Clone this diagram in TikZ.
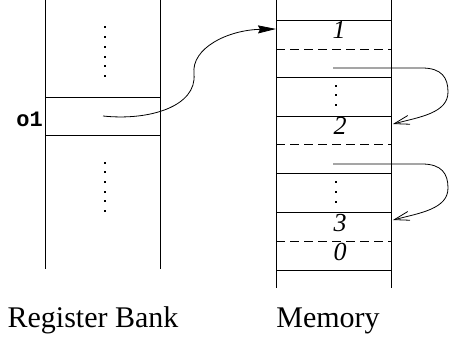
\documentclass[tikz,border=0pt]{standalone}
\usepackage{fontspec}
\setmainfont{Liberation Serif}
\setmonofont{Liberation Mono}
\usetikzlibrary{arrows.meta}
\tikzset{
  wall/.style={line width=0.9pt},
  sep/.style={line width=0.9pt},
  dsep/.style={line width=0.9pt, dash pattern=on 9pt off 5pt},
  dotmark/.style={fill=black, inner sep=0pt, minimum size=2.2pt, rectangle},
  slotnum/.style={anchor=base, inner sep=0pt, font=\fontsize{26}{30}\selectfont\itshape},
  caption/.style={anchor=base, inner sep=0pt, font=\fontsize{30}{36}\selectfont},
  reglabel/.style={anchor=base east, inner sep=0pt, font=\fontsize{22}{26}\selectfont\ttfamily\bfseries},
  ptr/.style={line width=0.8pt, -{Stealth[length=18pt,width=8pt,inset=2pt]}},
  link/.style={line width=0.8pt, -{Straight Barb[length=15pt,width=9pt]}}
}
\begin{document}
\begin{tikzpicture}[x=1pt,y=-1pt]
\useasboundingbox (0,0) rectangle (449,337);
% Register bank
\draw[wall] (45,0) -- (45,269);
\draw[wall] (160,0) -- (160,269);
\draw[sep] (45,97) -- (160,97);
\draw[sep] (45,135) -- (160,135);
\node[reglabel] (o1) at (43,126) {o1};
\foreach \y in {27,37,47,57,66,76,163,172,182,192,201,211}
  \node[dotmark] at (105,\y) {};
% Memory
\draw[wall] (276,0) -- (276,288);
\draw[wall] (391,0) -- (391,288);
\foreach \y in {20,77,116,173,212,270}
  \draw[sep] (276,\y) -- (391,\y);
\foreach \y in {49,144,241}
  \draw[dsep] (276,\y) -- (391,\y);
\foreach \y in {86,95,105,182,192,202}
  \node[dotmark] at (336,\y) {};
\node[slotnum] (n1) at (339,39) {1};
\node[slotnum] (n2) at (340,134) {2};
\node[slotnum] (n3) at (340,231) {3};
\node[slotnum] (n0) at (340,260) {0};
% captions
\node[caption] (rb) at (93,327) {Register Bank};
\node[caption] (mem) at (328,327) {Memory};
% connectors
\coordinate (regsrc) at (103,116);
\coordinate (memdst) at (276,29);
\coordinate (s2) at (333,68);
\coordinate (t2) at (393,124);
\coordinate (s3) at (333,164);
\coordinate (t3) at (393,220);
\draw[ptr] (regsrc) .. controls (150,121) and (197,106) .. (194,74)
  .. controls (191,48) and (228,30) .. (memdst);
\draw[link] (s2) -- (422,68) .. controls (442,68) and (448,78) .. (448,92)
  .. controls (448,113) and (420,117) .. (t2);
\draw[link] (s3) -- (422,164) .. controls (442,164) and (448,174) .. (448,188)
  .. controls (448,209) and (420,213) .. (t3);
\end{tikzpicture}
\end{document}
